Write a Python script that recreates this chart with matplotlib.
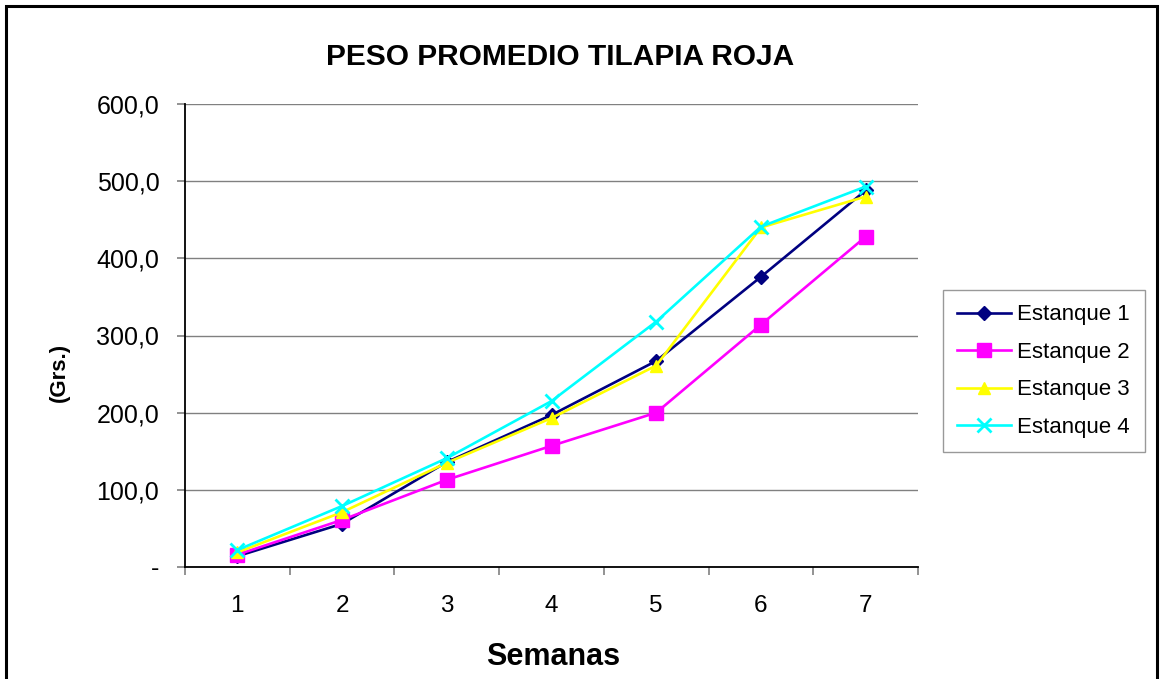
import matplotlib.pyplot as plt
from matplotlib.patches import Rectangle
from matplotlib.ticker import FixedLocator, FuncFormatter

# data
semanas = [1, 2, 3, 4, 5, 6, 7]
estanque_1 = [14, 56, 136, 197, 267, 376, 488]
estanque_2 = [16, 61, 113, 157, 200, 314, 428]
estanque_3 = [19, 71, 135, 193, 261, 440, 480]
estanque_4 = [22, 79, 141, 215, 318, 441, 493]
nombres = ["Estanque 1", "Estanque 2", "Estanque 3", "Estanque 4"]

plt.rcParams['font.family'] = ['Liberation Sans', 'DejaVu Sans']

W, H = 1162, 679
fig = plt.figure(figsize=(W / 100, H / 100), dpi=100)

# outer frame of the chart
fig.patches.append(Rectangle((6 / W, -0.05), (1157 - 6) / W, 1.05 - 6 / H,
                             transform=fig.transFigure, fill=False,
                             edgecolor="black", lw=2.2))

ax = fig.add_axes([185 / W, 1 - 567 / H, (918 - 185) / W, (567 - 104) / H])

series = [estanque_1, estanque_2, estanque_3, estanque_4]
colores = ["#000080", "#FF00FF", "#FFFF00", "#00FFFF"]
marcas = ["D", "s", "^", "x"]
tamanos = [7.5, 9.5, 9, 10]

for vals, nom, col, m, ms in zip(series, nombres, colores, marcas, tamanos):
    ax.plot(semanas, vals, color=col, lw=1.9, marker=m, markersize=ms,
            markeredgewidth=2 if m == "x" else 1, markerfacecolor=col,
            markeredgecolor=col, label=nom)

ax.set_xlim(0.5, 7.5)
ax.set_ylim(0, 600)
ax.set_yticks(range(0, 601, 100))
ax.yaxis.set_major_formatter(FuncFormatter(
    lambda v, p: "-" if v == 0 else f"{v:.1f}".replace(".", ",")))
ax.grid(axis="y", color="#808080", lw=1)
ax.set_axisbelow(True)

ax.set_xticks(semanas)
ax.xaxis.set_minor_locator(FixedLocator([i + 0.5 for i in range(0, 8)]))
ax.tick_params(axis="x", which="major", length=0, pad=20, labelsize=17.5)
ax.tick_params(axis="x", which="minor", length=6, color="#808080", width=1.2)
ax.tick_params(axis="y", length=6, color="#808080", width=1.2, pad=12.5,
               labelsize=18)

for s in ["top", "right"]:
    ax.spines[s].set_visible(False)
for s in ["left", "bottom"]:
    ax.spines[s].set_linewidth(1.3)

fig.text(560 / W, 1 - 57 / H, "PESO PROMEDIO TILAPIA ROJA", ha="center",
         va="center", fontsize=21.5, fontweight="bold")
fig.text(553 / W, 1 - 657 / H, "Semanas", ha="center", va="center",
         fontsize=22, fontweight="bold")
fig.text(59 / W, 1 - 372 / H, "(Grs.)", ha="center", va="center",
         rotation=90, fontsize=16, fontweight="bold")

leg = fig.legend(loc="upper left", bbox_to_anchor=(943 / W, 1 - 290 / H),
                 fontsize=16, frameon=True, fancybox=False, borderaxespad=0,
                 handlelength=2.4, labelspacing=0.74, borderpad=0.65,
                 handletextpad=0.3)
leg.get_frame().set_edgecolor("#808080")
leg.get_frame().set_linewidth(1)

fig.savefig("out.png", dpi=100)
